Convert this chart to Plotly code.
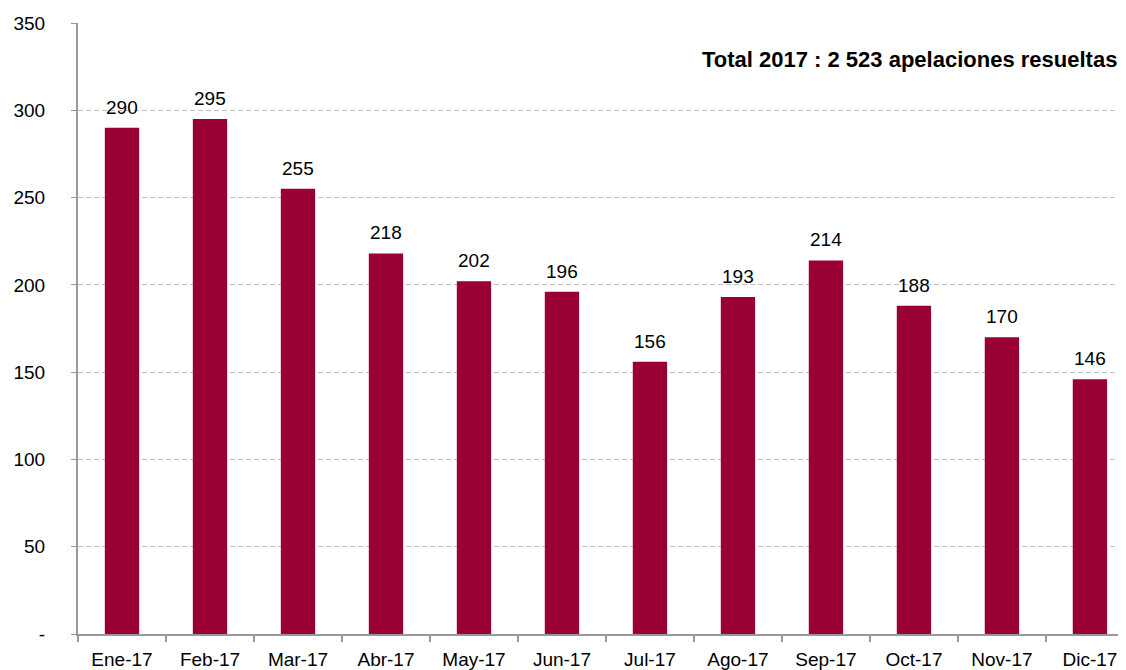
import plotly.graph_objects as go

months = ["Ene-17", "Feb-17", "Mar-17", "Abr-17", "May-17", "Jun-17",
          "Jul-17", "Ago-17", "Sep-17", "Oct-17", "Nov-17", "Dic-17"]
apelaciones = [290, 295, 255, 218, 202, 196, 156, 193, 214, 188, 170, 146]

y_ticks = [0, 50, 100, 150, 200, 250, 300, 350]
y_tick_labels = ["-", "50", "100", "150", "200", "250", "300", "350"]

BAR_COLOR = "#990033"
FONT = "Liberation Sans, Arial, sans-serif"

fig = go.Figure()
fig.add_trace(
    go.Bar(
        x=months,
        y=apelaciones,
        marker=dict(color=BAR_COLOR, line=dict(width=0)),
        width=0.39,
        hoverinfo="x+y",
    )
)

# value labels above each bar
for m, v in zip(months, apelaciones):
    fig.add_annotation(
        x=m, y=v, text=str(v), showarrow=False,
        yanchor="bottom", yshift=8,
        font=dict(family=FONT, size=19, color="black"),
    )

fig.add_annotation(
    xref="paper", yref="paper", x=0.993, y=0.94,
    xanchor="right", yanchor="middle",
    text="<b>Total 2017 : 2 523 apelaciones resueltas</b>",
    showarrow=False,
    font=dict(family=FONT, size=22, color="black"),
)

# page body keeps an 8px margin, so size/margins are shifted to compensate
fig.update_layout(
    width=1118,
    height=662,
    margin=dict(l=70, r=0, t=15, b=28),
    plot_bgcolor="white",
    paper_bgcolor="white",
    showlegend=False,
    font=dict(family=FONT, size=19, color="black"),
)

fig.update_xaxes(
    type="category",
    range=[-0.5, 11.41],
    showline=True,
    linecolor="#999999",
    linewidth=2,
    ticks="outside",
    tickson="boundaries",
    ticklen=6,
    tickcolor="#999999",
    tickwidth=1.5,
    showgrid=False,
    tickfont=dict(family=FONT, size=19, color="black"),
    ticklabelstandoff=7,
)

fig.update_yaxes(
    range=[0, 350],
    tickvals=y_ticks,
    ticktext=y_tick_labels,
    showline=True,
    linecolor="#999999",
    linewidth=2,
    ticks="outside",
    ticklen=5,
    tickcolor="#999999",
    showgrid=True,
    gridcolor="#bfbfbf",
    griddash="5px,3px",
    gridwidth=1,
    zeroline=False,
    tickfont=dict(family=FONT, size=19, color="black"),
    ticklabelstandoff=22,
)

fig.write_html("out.html")
